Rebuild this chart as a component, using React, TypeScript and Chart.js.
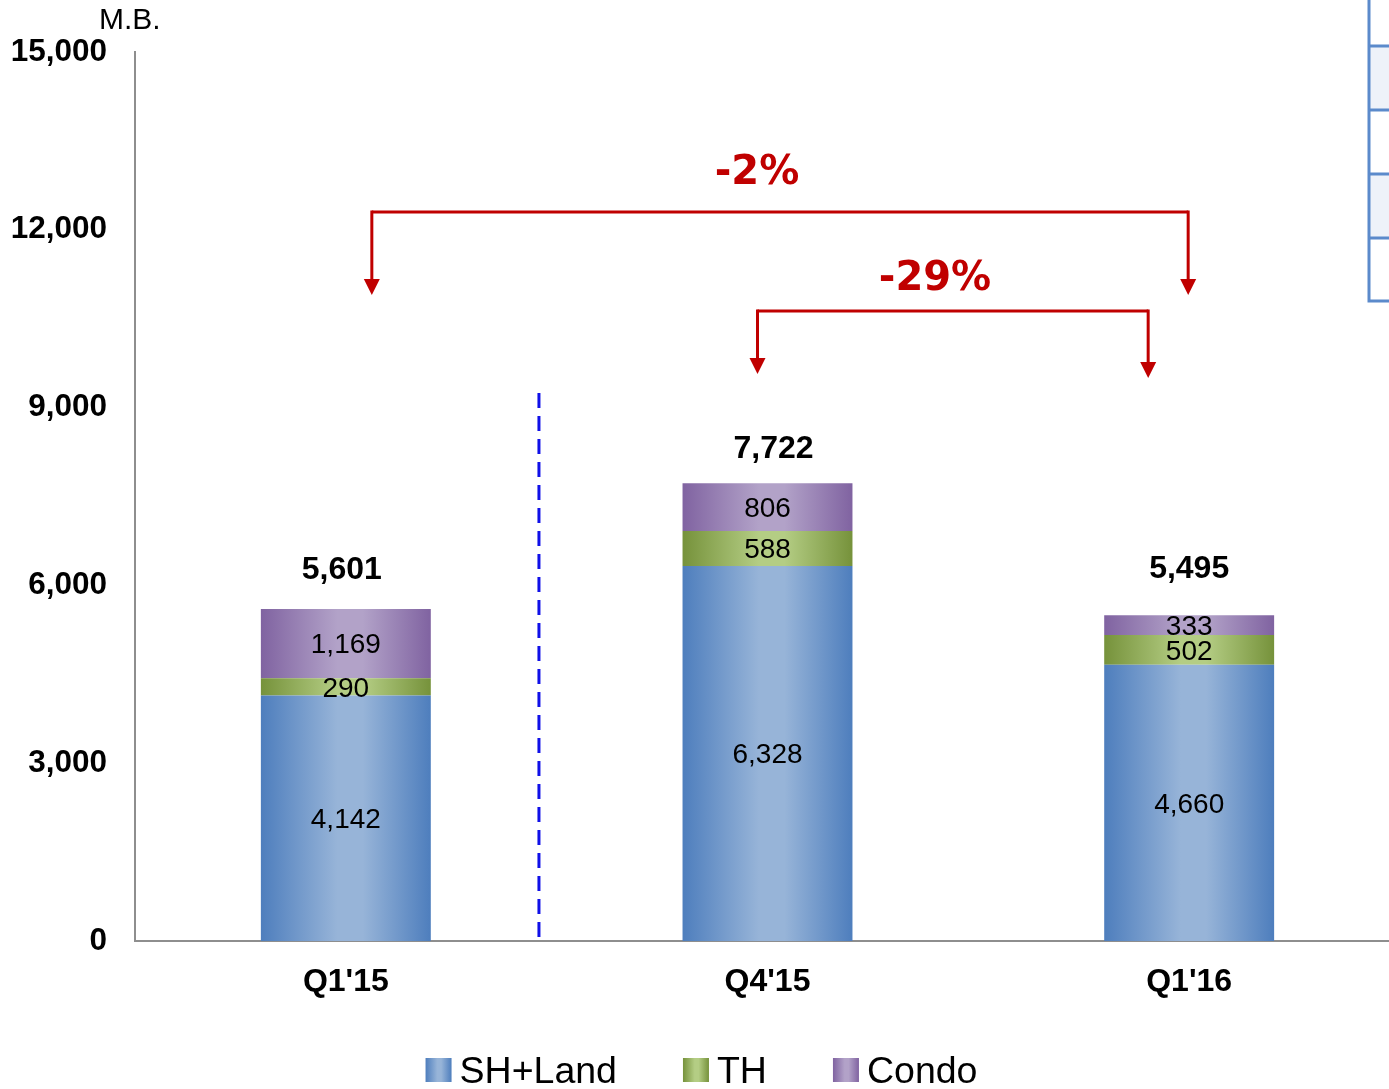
import React, { useEffect, useRef } from 'react';
import { Chart, registerables } from 'chart.js';

Chart.register(...registerables);

// Quarterly revenue by segment (million baht)
const categories = ["Q1'15", "Q4'15", "Q1'16"];
const shLand = [4142, 6328, 4660];
const townhouse = [290, 588, 502];
const condo = [1169, 806, 333];
const totals = [5601, 7722, 5495];
const yTicks = [0, 3000, 6000, 9000, 12000, 15000];
const seriesNames = ['SH+Land', 'TH', 'Condo'];
const changeLabels = ['-2%', '-29%'];

// Gradient colour pairs: [edge, centre]
const BLUE: [string, string] = ['#4E7EBD', '#97B4D8'];
const GREEN: [string, string] = ['#76923B', '#B4CD84'];
const PURPLE: [string, string] = ['#8063A1', '#B2A2C8'];

const BAR_FRACTION = 0.403;
const CANVAS_W = 1402;
const CANVAS_H = 1089;

const ARIAL = '"Liberation Sans", Arial, sans-serif';
const VERDANA = '"DejaVu Sans", Verdana, sans-serif';
const RED = '#C00000';

function fillGradient(ctx: CanvasRenderingContext2D, x0: number, x1: number, pair: [string, string]) {
  const g = ctx.createLinearGradient(x0, 0, x1, 0);
  g.addColorStop(0, pair[0]);
  g.addColorStop(0.45, pair[1]);
  g.addColorStop(0.6, pair[1]);
  g.addColorStop(1, pair[0]);
  return g;
}

function barFill(pair: [string, string]) {
  return (context: any) => {
    const chart = context.chart;
    const area = chart.chartArea;
    if (!area || context.dataIndex === undefined) return pair[0];
    const xs = chart.scales.x;
    const w = ((area.right - area.left) / categories.length) * BAR_FRACTION;
    const cx = xs.getPixelForValue(context.dataIndex);
    return fillGradient(chart.ctx, cx - w / 2, cx + w / 2, pair);
  };
}

// Bracket arrows comparing quarters: from/to category index with pixel nudges
const brackets = [
  { label: 0, from: 0, fromDx: 26, to: 2, toDx: -1, barY: 12300, tipFrom: 10900, tipTo: 10900, textX: 757, textY: 174 },
  { label: 1, from: 1, fromDx: -10, to: 2, toDx: -41, barY: 10630, tipFrom: 9567, tipTo: 9500, textX: 935, textY: 280 },
];

const totalLift = [39, 34, 46];
const totalShift = [-4, 6, 0];

function drawArrowDown(ctx: CanvasRenderingContext2D, x: number, yTop: number, yTip: number) {
  const head = 16;
  ctx.beginPath();
  ctx.moveTo(x, yTop);
  ctx.lineTo(x, yTip - head + 2);
  ctx.stroke();
  ctx.beginPath();
  ctx.moveTo(x - 8, yTip - head);
  ctx.lineTo(x + 8, yTip - head);
  ctx.lineTo(x, yTip);
  ctx.closePath();
  ctx.fill();
}

const overlayPlugin = {
  id: 'overlay',
  afterDraw(chart: any) {
    const ctx: CanvasRenderingContext2D = chart.ctx;
    const xs = chart.scales.x;
    const ys = chart.scales.y;

    ctx.save();

    // Segment value labels
    ctx.fillStyle = '#000';
    ctx.textAlign = 'center';
    ctx.textBaseline = 'middle';
    ctx.font = `28px ${ARIAL}`;
    const series = [shLand, townhouse, condo];
    categories.forEach((_, i) => {
      let base = 0;
      series.forEach((s) => {
        const v = s[i];
        const yMid = (ys.getPixelForValue(base) + ys.getPixelForValue(base + v)) / 2;
        ctx.fillText(v.toLocaleString('en-US'), xs.getPixelForValue(i), yMid + 2);
        base += v;
      });
    });

    // Totals above bars
    ctx.font = `bold 32px ${ARIAL}`;
    totals.forEach((t, i) => {
      const y = ys.getPixelForValue(t) - totalLift[i];
      ctx.fillText(t.toLocaleString('en-US'), xs.getPixelForValue(i) + totalShift[i], y);
    });

    // Dashed separator between the year-ago quarter and the recent ones
    ctx.strokeStyle = '#1010E8';
    ctx.lineWidth = 3;
    ctx.setLineDash([15, 8]);
    const sepX = xs.getPixelForValue(0.458);
    ctx.beginPath();
    ctx.moveTo(sepX, ys.getPixelForValue(9245));
    ctx.lineTo(sepX, ys.getPixelForValue(0));
    ctx.stroke();
    ctx.setLineDash([]);

    // Change brackets
    ctx.strokeStyle = RED;
    ctx.fillStyle = RED;
    ctx.lineWidth = 3;
    brackets.forEach((b) => {
      const x0 = xs.getPixelForValue(b.from) + b.fromDx;
      const x1 = xs.getPixelForValue(b.to) + b.toDx;
      const yb = ys.getPixelForValue(b.barY);
      ctx.beginPath();
      ctx.moveTo(x0, yb);
      ctx.lineTo(x1, yb);
      ctx.stroke();
      drawArrowDown(ctx, x0, yb - 1.5, ys.getPixelForValue(b.tipFrom));
      drawArrowDown(ctx, x1, yb - 1.5, ys.getPixelForValue(b.tipTo));
      ctx.font = `bold 40px ${VERDANA}`;
      ctx.textAlign = 'center';
      ctx.textBaseline = 'middle';
      ctx.fillText(changeLabels[b.label], b.textX, b.textY);
    });

    // Unit label
    ctx.fillStyle = '#000';
    ctx.font = `30px ${ARIAL}`;
    ctx.textAlign = 'left';
    ctx.textBaseline = 'middle';
    ctx.fillText('M.B.', 99, 21);

    // Legend
    const pairs = [BLUE, GREEN, PURPLE];
    ctx.font = `37.5px ${ARIAL}`;
    const boxW = 26;
    const boxH = 24;
    const gapText = 8;
    const gapItem = 66;
    const widths = seriesNames.map((n) => boxW + gapText + ctx.measureText(n).width);
    const totalW = widths.reduce((a, b) => a + b, 0) + gapItem * (seriesNames.length - 1);
    let lx = 701.5 - totalW / 2;
    const ly = 1070;
    seriesNames.forEach((n, i) => {
      ctx.fillStyle = fillGradient(ctx, lx, lx + boxW, pairs[i]);
      ctx.fillRect(lx, ly - boxH / 2, boxW, boxH);
      ctx.fillStyle = '#000';
      ctx.fillText(n, lx + boxW + gapText, ly + 3);
      lx += widths[i] + gapItem;
    });

    // Edge of the neighbouring table
    const tx = 1369;
    const rows = [46, 110, 174, 238, 301];
    ctx.fillStyle = '#EEF2F9';
    ctx.fillRect(tx, rows[0], CANVAS_W - tx, rows[1] - rows[0]);
    ctx.fillRect(tx, rows[2], CANVAS_W - tx, rows[3] - rows[2]);
    ctx.strokeStyle = '#5B8ACB';
    ctx.lineWidth = 3;
    ctx.beginPath();
    ctx.moveTo(tx, 0);
    ctx.lineTo(tx, rows[4] + 1.5);
    rows.forEach((r) => {
      ctx.moveTo(tx, r);
      ctx.lineTo(CANVAS_W, r);
    });
    ctx.stroke();

    ctx.restore();
  },
};

export default function App() {
  const canvasRef = useRef<HTMLCanvasElement | null>(null);

  useEffect(() => {
    const canvas = canvasRef.current;
    if (!canvas) return;
    const chart = new Chart(canvas, {
      type: 'bar',
      data: {
        labels: categories,
        datasets: [
          { label: seriesNames[0], data: shLand, backgroundColor: barFill(BLUE) },
          { label: seriesNames[1], data: townhouse, backgroundColor: barFill(GREEN) },
          { label: seriesNames[2], data: condo, backgroundColor: barFill(PURPLE) },
        ],
      },
      options: {
        responsive: false,
        animation: false,
        layout: { padding: { top: 52, right: 2, left: 0, bottom: 0 } },
        datasets: {
          bar: { categoryPercentage: 1, barPercentage: BAR_FRACTION, borderWidth: 0 },
        },
        plugins: {
          legend: { display: false },
          tooltip: { enabled: false },
        },
        scales: {
          x: {
            stacked: true,
            grid: { display: false, drawTicks: false },
            border: { display: true, color: '#8E8E8E', width: 2 },
            ticks: {
              color: '#000',
              padding: 22,
              font: { family: ARIAL, size: 32, weight: 'bold' },
            },
            afterFit: (scale: any) => {
              scale.height = 148;
            },
          },
          y: {
            stacked: true,
            min: 0,
            max: 15000,
            grid: { display: false, drawTicks: false },
            border: { display: true, color: '#8E8E8E', width: 2 },
            afterBuildTicks: (scale: any) => {
              scale.ticks = yTicks.map((v) => ({ value: v }));
            },
            ticks: {
              color: '#000',
              padding: 28,
              font: { family: ARIAL, size: 31.5, weight: 'bold' },
              callback: (v: any) => Number(v).toLocaleString('en-US'),
            },
            afterFit: (scale: any) => {
              scale.width = 135;
            },
          },
        },
      } as any,
      plugins: [overlayPlugin],
    });
    return () => chart.destroy();
  }, []);

  return (
    <div
      style={{
        position: 'fixed',
        left: 0,
        top: 0,
        width: 1389,
        height: 1089,
        overflow: 'hidden',
        background: '#fff',
      }}
    >
      <canvas ref={canvasRef} width={CANVAS_W} height={CANVAS_H} style={{ display: 'block' }} />
    </div>
  );
}
